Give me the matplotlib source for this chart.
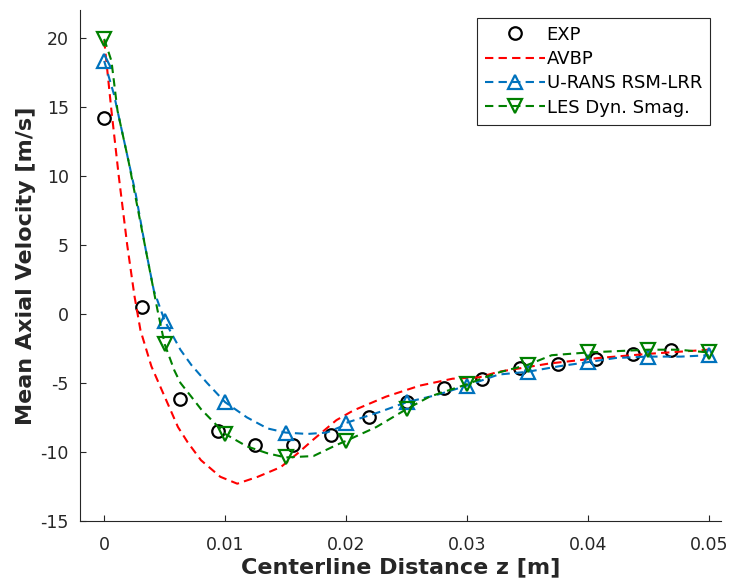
import numpy as np
import matplotlib
matplotlib.use('Agg')
import matplotlib.pyplot as plt

plt.rcParams['axes.unicode_minus'] = False

# experimental data (circles)
exp_z = [0, 0.003125, 0.00625, 0.009375, 0.0125, 0.015625, 0.01875, 0.021875,
         0.025, 0.028125, 0.03125, 0.034375, 0.0375, 0.040625, 0.04375, 0.046875]
exp_u = [14.2, 0.5, -6.2, -8.5, -9.5, -9.5, -8.8, -7.5,
         -6.4, -5.4, -4.7, -3.9, -3.6, -3.3, -2.9, -2.6]

# AVBP (dashed red)
avbp_z = [0, 0.0006, 0.0012, 0.0019, 0.0025, 0.003, 0.0039, 0.0047, 0.0061, 0.0069,
          0.008, 0.0096, 0.011, 0.0127, 0.0146, 0.016, 0.0173, 0.0192, 0.0206, 0.0233,
          0.0261, 0.0288, 0.031, 0.0326, 0.0368, 0.0409, 0.045, 0.05]
avbp_u = [19.8, 14.7, 10.0, 5.0, 1.3, -1.2, -3.8, -5.4, -8.2, -9.3,
          -10.6, -11.8, -12.3, -11.8, -11.1, -10.1, -9.1, -7.7, -7.0, -6.0,
          -5.2, -4.7, -4.6, -4.2, -3.6, -3.2, -2.9, -2.6]

# U-RANS RSM-LRR (dashed blue, up triangles)
rans_z = [0, 0.0008, 0.0017, 0.0026, 0.0034, 0.0041, 0.005, 0.0063, 0.0072, 0.0085,
          0.01, 0.0118, 0.0135, 0.015, 0.0168, 0.0184, 0.0195, 0.02, 0.0228, 0.025,
          0.0274, 0.03, 0.0326, 0.035, 0.0376, 0.04, 0.0423, 0.045, 0.0477, 0.05]
rans_u = [18.3, 15.9, 12.3, 8.7, 4.8, 1.7, -0.5, -2.6, -3.7, -5.0,
          -6.4, -7.5, -8.3, -8.6, -8.7, -8.6, -8.2, -7.9, -7.1, -6.4,
          -5.9, -5.2, -4.4, -4.2, -3.8, -3.5, -3.2, -3.1, -3.1, -3.0]

# LES Dyn. Smag. (dashed green, down triangles)
les_z = [0, 0.0006, 0.0011, 0.002, 0.0028, 0.0036, 0.0044, 0.005, 0.0058, 0.0063,
         0.0072, 0.008, 0.01, 0.0118, 0.0135, 0.015, 0.0173, 0.0192, 0.02, 0.0225,
         0.025, 0.0269, 0.03, 0.0324, 0.035, 0.037, 0.04, 0.0425, 0.045, 0.0475, 0.05]
les_u = [19.9, 18.3, 14.7, 11.1, 7.5, 3.9, 0.3, -2.2, -4.1, -5.0,
         -6.0, -6.9, -8.7, -9.6, -10.1, -10.4, -10.3, -9.5, -9.2, -8.2,
         -6.9, -6.0, -5.1, -4.3, -3.7, -3.0, -2.8, -2.7, -2.6, -2.6, -2.8]


def marker_idx(z, step=0.005):
    return [i for i, v in enumerate(z) if abs(v / step - round(v / step)) < 1e-6]


blue = '#0072BD'
green = '#008000'
axcol = '#262626'
dash = (4, 2.5)

fig = plt.figure(figsize=(7.3, 5.81), dpi=100)
ax = fig.add_axes([0.1096, 0.1033, 0.8781, 0.8797])

ax.plot(exp_z, exp_u, 'o', color='black', mfc='none', ms=9, mew=1.6, label='EXP')
ax.plot(avbp_z, avbp_u, '--', color='red', lw=1.5, dashes=dash, label='AVBP')
ax.plot(rans_z, rans_u, '--', color=blue, lw=1.5, dashes=dash, marker='^', ms=9.5,
        mfc='none', mew=1.6, markevery=marker_idx(rans_z), label='U-RANS RSM-LRR')
ax.plot(les_z, les_u, '--', color=green, lw=1.5, dashes=dash, marker='v', ms=9.5,
        mfc='none', mew=1.6, markevery=marker_idx(les_z), label='LES Dyn. Smag.')

ax.set_xlim(-0.002, 0.051)
ax.set_ylim(-15, 22)
ax.set_xticks([0, 0.01, 0.02, 0.03, 0.04, 0.05])
ax.set_xticklabels(['0', '0.01', '0.02', '0.03', '0.04', '0.05'])
ax.set_yticks(range(-15, 21, 5))

for s in ['top', 'right']:
    ax.spines[s].set_visible(False)
for s in ['left', 'bottom']:
    ax.spines[s].set_color(axcol)
    ax.spines[s].set_linewidth(0.8)
ax.tick_params(direction='in', length=4, width=0.8, colors=axcol, labelsize=12.5)
ax.tick_params(axis='x', pad=11)
ax.tick_params(axis='y', pad=8)

ax.set_xlabel('Centerline Distance z [m]', fontsize=16, fontweight='bold', color=axcol, labelpad=2)
ax.set_ylabel('Mean Axial Velocity [m/s]', fontsize=16, fontweight='bold', color=axcol, labelpad=3)

leg = ax.legend(loc='upper right', bbox_to_anchor=(0.983, 0.985), fancybox=False,
                framealpha=1, edgecolor=axcol, fontsize=13, handlelength=3.3,
                handletextpad=0.1, borderaxespad=0, labelspacing=0.35, numpoints=1,
                borderpad=0.45)
leg.get_frame().set_linewidth(0.8)

fig.savefig('out.png', dpi=100)
